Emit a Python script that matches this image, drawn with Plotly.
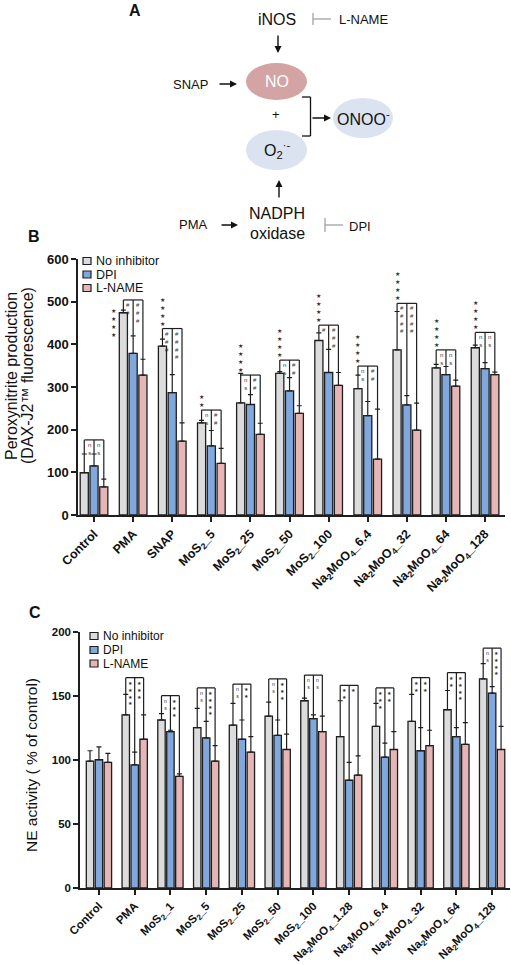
import plotly.graph_objects as go

W, H = 511, 965
FONT = "Arial, Liberation Sans, sans-serif"

# ---------------- data: panel B ----------------
cats_B = ['Control', 'PMA', 'SNAP', 'MoS<sub>2</sub>_5', 'MoS<sub>2</sub>_25', 'MoS<sub>2</sub>_50',
          'MoS<sub>2</sub>_100', 'Na<sub>2</sub>MoO<sub>4</sub>_6.4', 'Na<sub>2</sub>MoO<sub>4</sub>_32',
          'Na<sub>2</sub>MoO<sub>4</sub>_64', 'Na<sub>2</sub>MoO<sub>4</sub>_128']
B_none = [99, 474, 396, 216, 263, 332, 409, 296, 387, 345, 392]
B_none_err = [44, 6, 16, 6, 69, 4, 18, 32, 90, 8, 6]
B_dpi = [115, 379, 287, 162, 259, 291, 334, 233, 258, 329, 343]
B_dpi_err = [28, 41, 42, 36, 23, 31, 54, 33, 22, 19, 14]
B_lname = [66, 328, 173, 121, 189, 238, 304, 131, 199, 302, 329]
B_lname_err = [18, 37, 43, 35, 26, 18, 30, 117, 63, 14, 6]
B_bracket = [176, 504, 437, 246, 328, 363, 445, 349, 496, 387, 428]
B_sig_gb = ['ns', '##', '###', 'ns', 'ns', 'ns', '#', 'ns', '####', 'ns', 'ns']
B_sig_bp = ['ns', '###', '####', '##', '##', '##', '###', '##', '####', 'ns', 'ns']
B_stars = ['', '****', '****', '**', '****', '****', '****', '****', '****', '****', '****']
B_star_side = ['top', 'left', 'top', 'top', 'top', 'top', 'top', 'top', 'top', 'top', 'top']

# ---------------- data: panel C ----------------
cats_C = ['Control', 'PMA', 'MoS<sub>2</sub>_1', 'MoS<sub>2</sub>_5', 'MoS<sub>2</sub>_25', 'MoS<sub>2</sub>_50',
          'MoS<sub>2</sub>_100', 'Na<sub>2</sub>MoO<sub>4</sub>_1.28', 'Na<sub>2</sub>MoO<sub>4</sub>_6.4',
          'Na<sub>2</sub>MoO<sub>4</sub>_32', 'Na<sub>2</sub>MoO<sub>4</sub>_64', 'Na<sub>2</sub>MoO<sub>4</sub>_128']
C_none = [99, 135, 131, 125, 127, 134, 146, 118, 126, 130, 139, 163]
C_none_err = [8, 16, 5, 15, 17, 11, 2, 28, 18, 21, 15, 12]
C_dpi = [100, 96, 122, 117, 116, 119, 132, 84, 102, 107, 118, 152]
C_dpi_err = [10, 10, 1, 13, 15, 12, 3, 14, 11, 18, 7, 5]
C_lname = [98, 116, 87, 99, 106, 108, 122, 88, 108, 111, 112, 108]
C_lname_err = [7, 19, 2, 12, 12, 12, 12, 15, 14, 12, 17, 18]
C_bracket = [None, 164, 150, 156, 159, 163, 166, 158, 156, 164, 168, 187]
C_sig_gb = ['', '****', 'ns', 'ns', 'ns', 'ns', 'ns', '**', '***', '**', '**', 'ns']
C_sig_bp = ['', '***', '***', '****', '**', '***', 'ns', '*', '**', '**', '****', '****']

series_names = ['No inhibitor', 'DPI', 'L-NAME']
series_colors = ['#dcdcdc', '#80a8dc', '#e6b6b6']
EDGE = '#1e1e1e'
SIGCOL = '#333333'
BARGAP, GROUPGAP = 0.25, 0.17
SLOT = (1 - BARGAP) / 3


def PX(x):
    return x / W


def PY(y):
    return 1 - y / H


fig = go.Figure()
shapes = []
annos = []


def add_panel(xa, ya, values, errs, n):
    xs = list(range(n))
    for k in range(3):
        fig.add_trace(go.Bar(
            x=xs, y=values[k], name=series_names[k], xaxis=xa, yaxis=ya,
            marker=dict(color=series_colors[k], line=dict(color=EDGE, width=1.3)),
            error_y=dict(type='data', array=errs[k], arrayminus=[0] * n, symmetric=False,
                         color=EDGE, thickness=1.2, width=2.5),
            showlegend=False, hoverinfo='skip'))


def stack(s):
    s = s.replace('*', '★')
    return '<br>'.join(list(s))


def add_brackets(xref, yref, n, tops, brk, gb, bp, fsz, col=SIGCOL):
    for i in range(n):
        if brk[i] is None:
            continue
        xg, xb, xp = i - SLOT, i, i + SLOT
        h = brk[i]
        line = dict(color=EDGE, width=1.2)
        shapes.append(dict(type='line', xref=xref, yref=yref, x0=xg, x1=xp, y0=h, y1=h, line=line))
        for xx, tp in ((xg, tops[0][i]), (xb, tops[1][i]), (xp, tops[2][i])):
            shapes.append(dict(type='line', xref=xref, yref=yref, x0=xx, x1=xx, y0=h, y1=tp, line=line))
        for xx, txt in (((xg + xb) / 2, gb[i]), ((xb + xp) / 2, bp[i])):
            if txt:
                annos.append(dict(xref=xref, yref=yref, x=xx, y=h, yshift=-1, text=stack(txt),
                                  showarrow=False, xanchor='center', yanchor='top', borderpad=0,
                                  font=dict(size=fsz, color=col, family=FONT)))


# ---------- panel B ----------
add_panel('x', 'y', [B_none, B_dpi, B_lname], [B_none_err, B_dpi_err, B_lname_err], len(cats_B))
topsB = [[v + e for v, e in zip(B_none, B_none_err)],
         [v + e for v, e in zip(B_dpi, B_dpi_err)],
         [v + e for v, e in zip(B_lname, B_lname_err)]]
add_brackets('x', 'y', len(cats_B), topsB, B_bracket, B_sig_gb, B_sig_bp, 6)
for i, s in enumerate(B_stars):
    if not s:
        continue
    if B_star_side[i] == 'top':
        annos.append(dict(xref='x', yref='y', x=i - SLOT, y=B_bracket[i], yshift=1, text=stack(s),
                          showarrow=False, xanchor='center', yanchor='bottom', borderpad=0,
                          font=dict(size=6.2, color=SIGCOL, family=FONT)))
    else:
        annos.append(dict(xref='x', yref='y', x=i - SLOT, y=B_none[i] + B_none_err[i], xshift=-10,
                          yshift=4, text=stack(s), borderpad=0,
                          showarrow=False, xanchor='center', yanchor='top',
                          font=dict(size=6.2, color=SIGCOL, family=FONT)))

# ---------- panel C ----------
add_panel('x2', 'y2', [C_none, C_dpi, C_lname], [C_none_err, C_dpi_err, C_lname_err], len(cats_C))
topsC = [[v + e for v, e in zip(C_none, C_none_err)],
         [v + e for v, e in zip(C_dpi, C_dpi_err)],
         [v + e for v, e in zip(C_lname, C_lname_err)]]
add_brackets('x2', 'y2', len(cats_C), topsC, C_bracket, C_sig_gb, C_sig_bp, 5.2)

axis_common = dict(showline=True, linecolor=EDGE, linewidth=1.5, ticks='outside', ticklen=5,
                   tickwidth=1.5, tickcolor=EDGE, showgrid=False, zeroline=False, automargin=False)

fig.update_layout(
    width=W, height=H, margin=dict(l=0, r=0, t=0, b=0, pad=0),
    paper_bgcolor='white', plot_bgcolor='white',
    barmode='group', bargap=BARGAP, bargroupgap=GROUPGAP,
    font=dict(family=FONT, color='#111'),
    xaxis=dict(domain=[PX(78), PX(505)], anchor='y', range=[-0.41, 10.51],
               tickmode='array', tickvals=list(range(len(cats_B))), ticktext=cats_B, tickangle=-45,
               tickfont=dict(size=12.5, weight='bold', family=FONT, color='#111'), **axis_common),
    yaxis=dict(domain=[PY(515), PY(259)], anchor='x', range=[0, 600], dtick=100,
               tickfont=dict(size=13, weight='bold', family=FONT, color='#111'), **axis_common),
    xaxis2=dict(domain=[PX(80), PX(510)], anchor='y2', range=[-0.53, 11.5],
                tickmode='array', tickvals=list(range(len(cats_C))), ticktext=cats_C, tickangle=-45,
                tickfont=dict(size=11.5, weight='bold', family=FONT, color='#111'), **axis_common),
    yaxis2=dict(domain=[PY(888), PY(631.5)], anchor='x2', range=[0, 200], dtick=50,
                tickfont=dict(size=11.5, weight='bold', family=FONT, color='#111'), **axis_common),
)

# ---------- legends (manual) ----------
def legend(x0, ys, fsz):
    for k, yy in enumerate(ys):
        shapes.append(dict(type='rect', xref='paper', yref='paper', x0=PX(x0), x1=PX(x0 + 8),
                           y0=PY(yy + 3.5), y1=PY(yy - 3.5), fillcolor=series_colors[k],
                           line=dict(color=EDGE, width=1.2)))
        annos.append(dict(xref='paper', yref='paper', x=PX(x0 + 12), y=PY(yy), text=series_names[k],
                          showarrow=False, xanchor='left', yanchor='middle', borderpad=0,
                          font=dict(size=fsz, family=FONT, color='#111')))


legend(83, [261, 274.5, 288], 12.5)
legend(90, [636, 650, 663.5], 12)

# ---------- axis titles & panel letters ----------
def txt(x, y, s, size, bold=False, angle=0, color='#111', xa='center'):
    annos.append(dict(xref='paper', yref='paper', x=PX(x), y=PY(y), text=s, showarrow=False,
                      xanchor=xa, yanchor='middle', textangle=angle,
                      font=dict(size=size, family=FONT, color=color, weight='bold' if bold else 'normal')))


txt(11, 376, 'Peroxynitrite production', 16, angle=-90)
txt(27, 376, '(DAX-J2™ fluorescence)', 16, angle=-90)
txt(31, 765, 'NE activity ( % of control)', 15.5, angle=-90)
txt(135, 10, 'A', 16, bold=True)
txt(34, 237, 'B', 16, bold=True)
txt(35, 612, 'C', 16, bold=True)

# ---------- panel A diagram ----------
for (x0, y0, x1, y1, col) in [(246, 63, 307, 100, '#d4a3a3'), (246, 130, 307, 170, '#dbe3f1'),
                              (333, 98, 393, 138, '#dbe3f1')]:
    shapes.append(dict(type='circle', xref='paper', yref='paper', x0=PX(x0), x1=PX(x1),
                       y0=PY(y1), y1=PY(y0), fillcolor=col, line=dict(width=0), layer='below'))

txt(277, 19, 'iNOS', 16)
txt(277, 82, 'NO', 16, color='white')
txt(363, 118, 'ONOO<sup>-</sup>', 16)
txt(277, 150, 'O<sub>2</sub><sup>·-</sup>', 16)
txt(276, 114, '+', 13)
txt(277, 214, 'NADPH', 16)
txt(277, 233, 'oxidase', 16)
txt(210, 84, 'SNAP', 13, xa='right')
txt(210, 225, 'PMA', 13, xa='right')
txt(337, 19, 'L-NAME', 13, xa='left')
txt(347, 226, 'DPI', 13, xa='left')

grey = dict(color='#9a9a9a', width=1.2)
blk = dict(color='#111', width=1.3)
for (x0, y0, x1, y1, ln) in [(313, 13, 313, 25, grey), (313, 19, 331, 19, grey),
                             (325, 218, 325, 232, grey), (325, 225, 343, 225, grey),
                             (302, 97, 310.5, 97, blk), (310.5, 97, 310.5, 136, blk),
                             (310.5, 136, 302, 136, blk)]:
    shapes.append(dict(type='line', xref='paper', yref='paper', x0=PX(x0), x1=PX(x1),
                       y0=PY(y0), y1=PY(y1), line=ln))

for (hx, hy, ax, ay) in [(278, 53, 0, -19), (237, 84, -19, 0), (238, 225, -18, 0),
                         (279, 180, 0, 19), (331, 118, -20, 0)]:
    annos.append(dict(xref='paper', yref='paper', x=PX(hx), y=PY(hy), ax=ax, ay=ay, text='',
                      showarrow=True, arrowhead=2, arrowsize=1, arrowwidth=1.4, arrowcolor='#111'))

fig.update_layout(shapes=shapes, annotations=annos)
fig.write_html("out.html", config={'displayModeBar': False},
               post_script="document.body.style.margin='0';document.body.style.padding='0';")
